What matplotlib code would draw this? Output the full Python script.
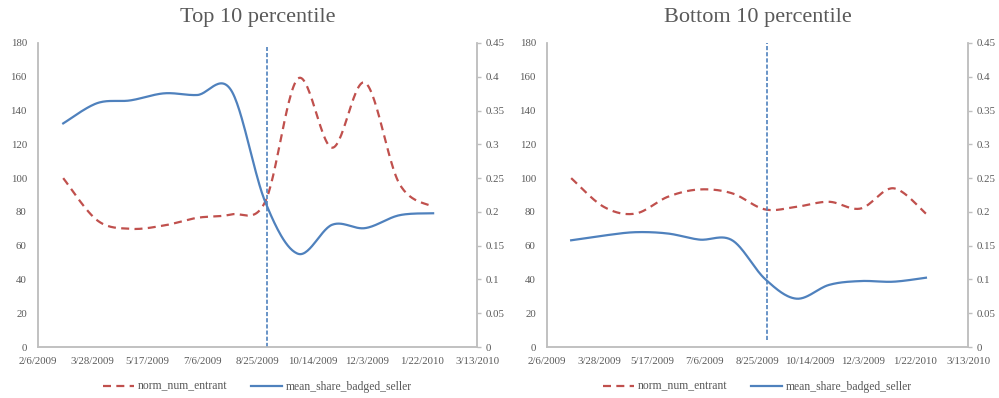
import datetime as dt
import numpy as np
import matplotlib
matplotlib.use("Agg")
import matplotlib.pyplot as plt
import matplotlib.dates as mdates
from matplotlib.ticker import FuncFormatter, FixedLocator

# monthly observations
months = [dt.date(2009, m, 1) for m in range(3, 13)] + [dt.date(2010, 1, 1), dt.date(2010, 2, 1)]

top_entrant = [100, 75, 70, 72, 76.5, 78.5, 86, 159, 118, 156.5, 97, 83]
top_badged = [0.331, 0.361, 0.365, 0.3755, 0.373, 0.38, 0.215, 0.138, 0.181, 0.176, 0.195, 0.198]

bot_entrant = [100, 83, 79, 89, 93.3, 91, 81.5, 83, 86, 82, 94, 79]
bot_badged = [0.158, 0.165, 0.170, 0.168, 0.159, 0.158, 0.101, 0.0716, 0.092, 0.0977, 0.0967, 0.1026]

# badge policy date, drawn as a dashed vertical marker
policy_date = dt.date(2009, 9, 3)
top_marker = [0, 0.444]
bot_marker = [0.01, 0.45]

red = "#C0504D"
blue = "#4F81BD"
grey_txt = "#595959"
grey_ax = "#BFBFBF"
font = ["Liberation Serif", "DejaVu Serif"]

plt.rcParams["font.family"] = font


def smooth(x, y, n=30):
    # Catmull-Rom spline like the spreadsheet "smoothed line"
    x = np.asarray(x, float)
    y = np.asarray(y, float)
    px = np.concatenate([[x[0]], x, [x[-1]]])
    py = np.concatenate([[y[0]], y, [y[-1]]])
    xs, ys = [], []
    t = np.linspace(0, 1, n)
    for i in range(1, len(px) - 2):
        p0, p1, p2, p3 = px[i - 1], px[i], px[i + 1], px[i + 2]
        q0, q1, q2, q3 = py[i - 1], py[i], py[i + 1], py[i + 2]
        c1x, c1y = p1 + (p2 - p0) / 6, q1 + (q2 - q0) / 6
        c2x, c2y = p2 - (p3 - p1) / 6, q2 - (q3 - q1) / 6
        b = [(1 - t) ** 3, 3 * (1 - t) ** 2 * t, 3 * (1 - t) * t ** 2, t ** 3]
        xs.append(b[0] * p1 + b[1] * c1x + b[2] * c2x + b[3] * p2)
        ys.append(b[0] * q1 + b[1] * c1y + b[2] * c2y + b[3] * q2)
    return np.concatenate(xs), np.concatenate(ys)


def date_fmt(v, pos):
    d = mdates.num2date(v)
    return f"{d.month}/{d.day}/{d.year}"


x0 = mdates.date2num(dt.date(2009, 2, 6))
xticks = [x0 + 50 * k for k in range(9)]
xm = mdates.date2num(months)

fig = plt.figure(figsize=(9.99, 3.98), dpi=100)
panels = [
    ("Top 10 percentile", top_entrant, top_badged, top_marker, [0.038, 0.128, 0.4395, 0.764]),
    ("Bottom 10 percentile", bot_entrant, bot_badged, bot_marker, [0.5475, 0.128, 0.4215, 0.764]),
]

for title, entrant, badged, marker, rect in panels:
    ax = fig.add_axes(rect)
    ax2 = ax.twinx()

    sx, sy = smooth(xm, entrant)
    l1, = ax.plot(sx, sy, color=red, lw=1.6, dashes=(3.6, 2.4), label="norm_num_entrant")
    sx, sy = smooth(xm, badged)
    l2, = ax2.plot(sx, sy, color=blue, lw=1.6, label="mean_share_badged_seller")
    vx = mdates.date2num(policy_date)
    ax2.plot([vx, vx], marker, color=blue, lw=1.2, dashes=(2.5, 1.2))

    ax.set_xlim(xticks[0], xticks[-1])
    ax.set_ylim(0, 180)
    ax2.set_ylim(0, 0.45)
    ax.set_yticks(range(0, 181, 20))
    ax2.set_yticks(np.arange(0, 0.451, 0.05))
    ax2.yaxis.set_major_formatter(FuncFormatter(lambda v, p: f"{v:.2f}".rstrip("0").rstrip(".") if v else "0"))
    ax.xaxis.set_major_locator(FixedLocator(xticks))
    ax.xaxis.set_major_formatter(FuncFormatter(date_fmt))

    for a in (ax, ax2):
        a.spines["top"].set_visible(False)
        for s in ("left", "right", "bottom"):
            a.spines[s].set_color(grey_ax)
            a.spines[s].set_linewidth(1.1)
    ax.tick_params(axis="both", length=0, labelsize=7.8, labelcolor=grey_txt)
    ax.tick_params(axis="y", pad=8)
    ax.tick_params(axis="x", pad=7)
    ax2.tick_params(axis="y", length=3, width=1, color=grey_ax, pad=3, labelsize=7.8, labelcolor=grey_txt)

    ax.set_title(title, fontsize=16, color=grey_txt, pad=15)
    ax.legend(handles=[l1, l2], loc="center", bbox_to_anchor=(0.5, -0.13), ncol=2,
              frameon=False, fontsize=8.4, labelcolor=grey_txt, handlelength=2.7,
              columnspacing=2.0, handletextpad=0.3)

fig.savefig("out.png", dpi=100)
